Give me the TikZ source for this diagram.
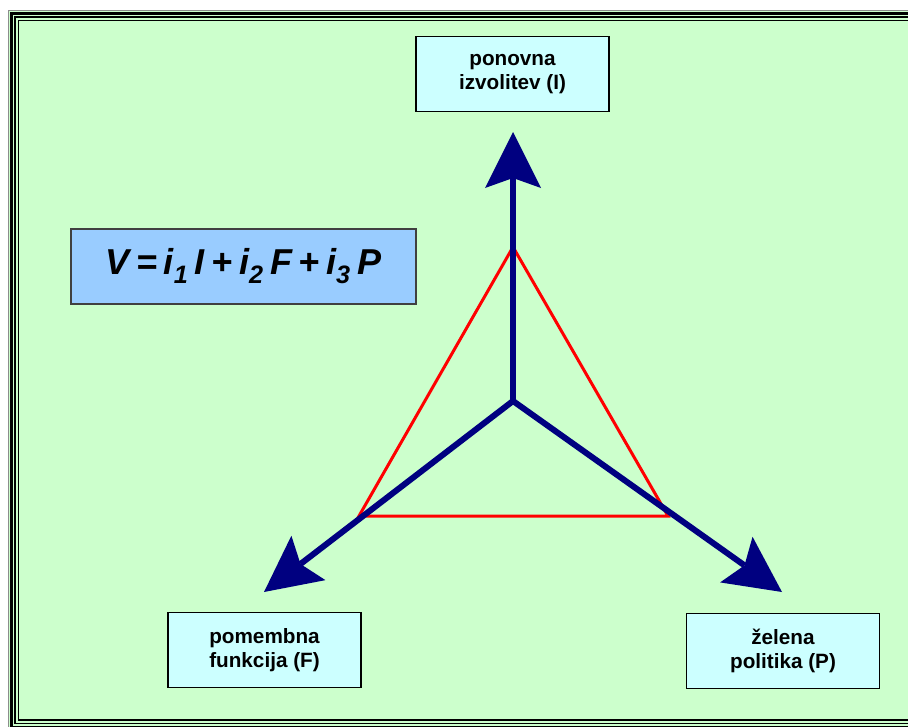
\documentclass[tikz,border=0pt]{standalone}
\usepackage{fontspec}
\setmainfont{Liberation Sans}
\usetikzlibrary{arrows.meta}
\definecolor{ozadje}{HTML}{CCFFCC}
\definecolor{okvircek}{HTML}{CCFFFF}
\definecolor{formulamodra}{HTML}{99CCFF}
\definecolor{temnomodra}{HTML}{000080}
\definecolor{rdeca}{HTML}{FF0000}

\tikzset{konica/.tip={Stealth[length=56pt,width=56pt,inset=10pt,line width=0pt]}}

\begin{document}
\begin{tikzpicture}[
x=1pt, y=-1pt,
oznaka/.style={
rectangle,
draw=black,
line width=1.5pt,
fill=okvircek,
align=center,
minimum width=193pt,
minimum height=75pt,
font=\fontsize{20.7}{24}\selectfont\bfseries
},
enacba/.style={
rectangle,
draw=black!75,
line width=2.5pt,
fill=formulamodra,
minimum width=345pt,
minimum height=75pt,
font=\fontsize{36}{40}\selectfont\bfseries\itshape
},
puscica/.style={
temnomodra,
line width=6pt,
line join=miter
},
trikotnik/.style={rdeca, line width=3pt, line join=miter}
]

\useasboundingbox (0,0) rectangle (908,726);
\clip (0,0) rectangle (908,726);
\fill[white] (0,0) rectangle (908,726);

% okvir
\fill[ozadje] (8,10) rectangle (930,750);
\draw[black!45, line width=1pt] (8.5,10.5) rectangle (924,740);
\draw[black, line width=2.5pt] (11.5,13.5) rectangle (919,727.5);
\draw[black, line width=1.2pt] (15,17) rectangle (915.5,723.5);
\draw[black, line width=1.5pt] (18.5,20.5) rectangle (912,720);

\node[oznaka] (izv) at (512.5,74) {ponovna\\izvolitev (I)};
\node[oznaka] (fun) at (264.5,650) {pomembna\\funkcija (F)};
\node[oznaka] (pol) at (783,651) {želena\\politika (P)};
\node[enacba] (V) at (243.5,266.5) {\spaceskip=6.5pt\relax V = i\textsubscript{1} I + i\textsubscript{2} F + i\textsubscript{3} P};

\coordinate (o) at (513,401);
\coordinate (kI) at (513,132);
\coordinate (kF) at (264,592);
\coordinate (kP) at (782,592);

\coordinate (tI) at (513,247);
\coordinate (tF) at (359,516);
\coordinate (tP) at (668,516);

\draw[trikotnik] (tI) -- (tP) -- (tF) -- cycle;

\draw[puscica, konica-konica] (kF) -- (o) -- (kP);
\draw[puscica, -konica] (o) -- (kI);

\end{tikzpicture}
\end{document}
